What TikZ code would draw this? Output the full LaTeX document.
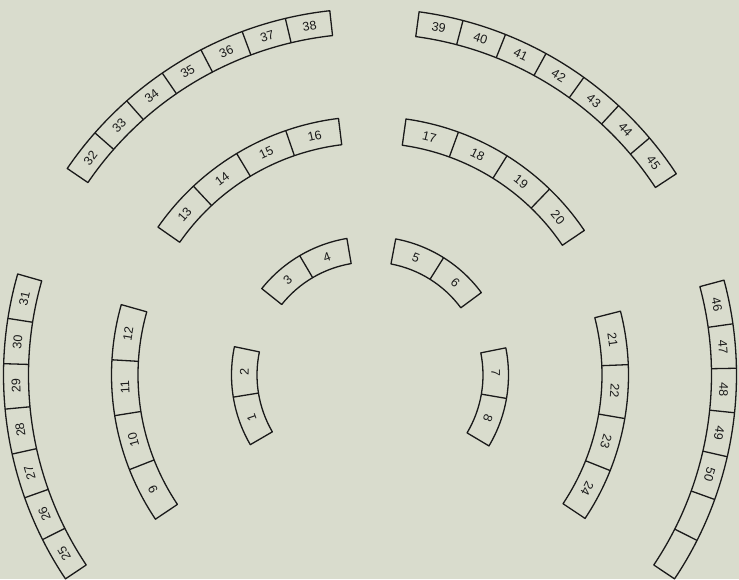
\documentclass[tikz,border=0pt]{standalone}
\usepackage{fontspec}
\setmainfont{Liberation Sans}
\definecolor{bgpaper}{HTML}{D9DCCD}
\definecolor{ink}{HTML}{1A1A1A}
\tikzset{
  cellline/.style={draw=ink, line width=1.3pt, line join=round},
  lab/.style={text=ink, inner sep=0pt, font=\fontsize{12.5}{12.5}\selectfont},
}
% #1 start angle, #2 end angle (clockwise), #3 inner radius, #4 outer radius,
% #5 number of cells, #6 first label, #7 number of labelled cells
\newcommand\arcgroup[7]{%
  \pgfmathsetmacro\dA{(#1-(#2))/#5}%
  \pgfmathsetmacro\rmid{(#3+#4)/2}%
  \draw[cellline] (#1:#4pt) arc[start angle=#1, end angle=#2, radius=#4pt]
      -- (#2:#3pt) arc[start angle=#2, end angle=#1, radius=#3pt] -- cycle;
  \pgfmathtruncatemacro\nmx{#5-1}%
  \foreach \k in {1,...,\nmx}{%
    \pgfmathsetmacro\ang{#1-\k*\dA}%
    \draw[cellline] (\ang:#3pt) -- (\ang:#4pt);
  }%
  \foreach \k in {1,...,#7}{%
    \pgfmathsetmacro\ang{#1-(\k-0.5)*\dA}%
    \pgfmathsetmacro\rot{\ang-90}%
    \pgfmathtruncatemacro\lnum{#6+\k-1}%
    \node[lab, rotate=\rot] (n\lnum) at (\ang:\rmid pt) {\lnum};
  }%
}
\begin{document}
\begin{tikzpicture}[x=1pt, y=1pt]
  \fill[bgpaper] (-370,-204) rectangle (369,375);
  \useasboundingbox (-370,-204) rectangle (369,375);
  \coordinate (O) at (0,0);
  % inner ring
  \arcgroup{210.2}{168.2}{113}{138.5}{2}{1}{2}
  \arcgroup{141.4}{99.6}{113}{138.5}{2}{3}{2}
  \arcgroup{79.3}{36.5}{113}{138.5}{2}{5}{2}
  \arcgroup{11.3}{-30.8}{113}{138.5}{2}{7}{2}
  % middle ring
  \arcgroup{213.9}{164.2}{232}{258.5}{4}{9}{4}
  \arcgroup{145.1}{97}{232}{258.5}{4}{13}{4}
  \arcgroup{82}{34}{232}{258.5}{4}{17}{4}
  \arcgroup{14.3}{-33.7}{232}{258.5}{4}{21}{4}
  % outer ring
  \arcgroup{213.8}{164}{341.5}{366.5}{7}{25}{7}
  \arcgroup{145.7}{96.3}{341.5}{366.5}{7}{32}{7}
  \arcgroup{82.3}{33.3}{341.5}{366.5}{7}{39}{7}
  \arcgroup{15}{-33.8}{341.5}{366.5}{7}{46}{5}
\end{tikzpicture}
\end{document}
